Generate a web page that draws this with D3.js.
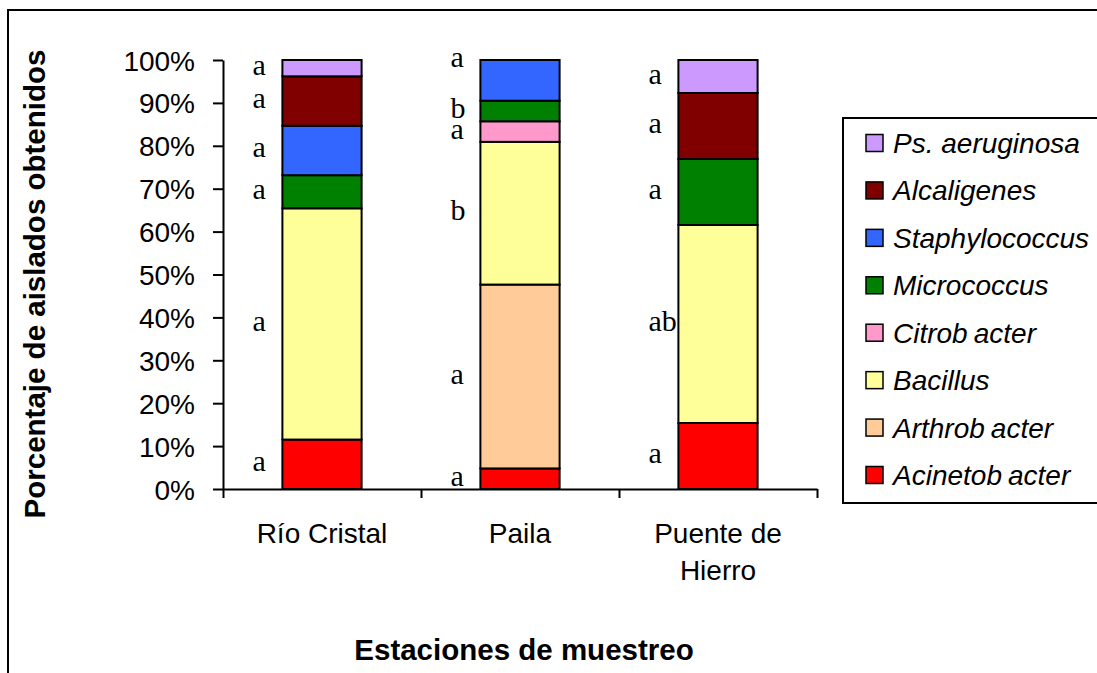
<!DOCTYPE html>
<html>
<head>
<meta charset="utf-8">
<script src="https://cdn.jsdelivr.net/npm/d3@7"></script>
<style>
  html, body { margin: 0; padding: 0; background: #fff; }
  svg { display: block; }
  text { fill: #000; }
</style>
</head>
<body>
<svg id="chart" width="1097" height="673"></svg>
<script>
// Sampling stations (x categories) and how their labels wrap
const stations = ["Río Cristal", "Paila", "Puente de Hierro"];
const stationLines = [["Río Cristal"], ["Paila"], ["Puente de", "Hierro"]];

// Genera, stacked from the bottom of each bar upwards
const genera = ["Acinetobacter", "Arthrobacter", "Bacillus", "Citrobacter",
                "Micrococcus", "Staphylococcus", "Alcaligenes", "Ps. aeruginosa"];
const colors = ["#FF0000", "#FFCC99", "#FFFF99", "#FF99CC",
                "#008000", "#3366FF", "#800000", "#CC99FF"];

// Percentage of isolates per station (Río Cristal, Paila, Puente de Hierro)
const acinetobacter  = [11.5,  4.8, 15.4];
const arthrobacter   = [ 0.0, 42.9,  0.0];
const bacillus       = [53.8, 33.3, 46.2];
const citrobacter    = [ 0.0,  4.8,  0.0];
const micrococcus    = [ 7.7,  4.8, 15.4];
const staphylococcus = [11.5,  9.5,  0.0];
const alcaligenes    = [11.5,  0.0, 15.4];
const psAeruginosa   = [ 3.8,  0.0,  7.7];

// Significance letters per genus and station (null = no letter)
const lettersAcinetobacter  = ["a", "a", "a"];
const lettersArthrobacter   = [null, "a", null];
const lettersBacillus       = ["a", "b", "ab"];
const lettersCitrobacter    = [null, "a", null];
const lettersMicrococcus    = ["a", "b", "a"];
const lettersStaphylococcus = ["a", null, null];
const lettersAlcaligenes    = ["a", null, "a"];
const lettersPsAeruginosa   = ["a", "a", "a"];

// Y axis tick values (fractions of the total)
const yTicks = [0, 0.1, 0.2, 0.3, 0.4, 0.5, 0.6, 0.7, 0.8, 0.9, 1.0];

const series = [acinetobacter, arthrobacter, bacillus, citrobacter,
                micrococcus, staphylococcus, alcaligenes, psAeruginosa];
const letters = [lettersAcinetobacter, lettersArthrobacter, lettersBacillus,
                 lettersCitrobacter, lettersMicrococcus, lettersStaphylococcus,
                 lettersAlcaligenes, lettersPsAeruginosa];

// Rows for d3.stack: one per station
const rows = stations.map((s, i) => {
  const r = { station: s };
  genera.forEach((g, k) => { r[g] = series[k][i]; });
  return r;
});

const stacked = d3.stack()
  .keys(genera)
  .offset(d3.stackOffsetExpand)(rows);

const svg = d3.select("#chart");
const SANS = "'Liberation Sans', Arial, sans-serif";
const SERIF = "'Liberation Serif', 'Times New Roman', serif";

// Outer chart frame (runs past the right and bottom edges)
svg.append("rect")
  .attr("x", 8).attr("y", 10)
  .attr("width", 1200).attr("height", 800)
  .attr("fill", "none").attr("stroke", "#000").attr("stroke-width", 2);

const plot = { left: 223, right: 817, top: 60, bottom: 489 };

const x = d3.scaleBand()
  .domain(stations)
  .range([plot.left, plot.right])
  .paddingInner(0.6)
  .paddingOuter(0.3);

const y = d3.scaleLinear()
  .domain([0, 1])
  .range([plot.bottom, plot.top]);

// Category boundaries for the x axis ticks
const xEdge = d3.scaleLinear()
  .domain([0, stations.length])
  .range([plot.left, plot.right]);

// Bars
const layers = svg.append("g").selectAll("g")
  .data(stacked)
  .join("g")
  .attr("fill", (d, k) => colors[k]);

layers.selectAll("rect")
  .data(d => d.filter(p => p[1] - p[0] > 0))
  .join("rect")
  .attr("x", p => x(p.data.station))
  .attr("width", x.bandwidth())
  .attr("y", p => y(p[1]))
  .attr("height", p => y(p[0]) - y(p[1]))
  .attr("stroke", "#000")
  .attr("stroke-width", 2);

// Significance letters beside each segment
const letterData = [];
stacked.forEach((layer, k) => {
  layer.forEach((p, i) => {
    const t = letters[k][i];
    if (t) letterData.push({ text: t, station: stations[i], mid: (p[0] + p[1]) / 2 });
  });
});

svg.append("g").selectAll("text")
  .data(letterData)
  .join("text")
  .attr("x", d => x(d.station) - 30)
  .attr("y", d => y(d.mid) + 7)
  .attr("font-family", SERIF)
  .attr("font-size", 30)
  .text(d => d.text);

// Y axis
const yAxis = svg.append("g")
  .attr("transform", `translate(${plot.left},0)`)
  .call(d3.axisLeft(y)
    .tickValues(yTicks)
    .tickFormat(d3.format(".0%"))
    .tickSize(10)
    .tickSizeOuter(0)
    .tickPadding(18));
yAxis.select(".domain").attr("stroke-width", 2);
yAxis.selectAll(".tick line").attr("stroke-width", 2);
yAxis.selectAll(".tick text")
  .attr("font-family", SANS)
  .attr("font-size", 28)
  .attr("dy", "0.36em");

// X axis with ticks between categories
const xAxis = svg.append("g")
  .attr("transform", `translate(0,${plot.bottom})`)
  .call(d3.axisBottom(xEdge)
    .tickValues(d3.range(stations.length + 1))
    .tickFormat("")
    .tickSize(9)
    .tickSizeOuter(0));
xAxis.select(".domain").attr("stroke-width", 2);
xAxis.selectAll(".tick line").attr("stroke-width", 2);

// Station labels
const cat = svg.append("g").selectAll("text")
  .data(stations)
  .join("text")
  .attr("x", d => x(d) + x.bandwidth() / 2)
  .attr("y", 543)
  .attr("text-anchor", "middle")
  .attr("font-family", SANS)
  .attr("font-size", 28);
cat.selectAll("tspan")
  .data((d, i) => stationLines[i].map(line => ({ line, cx: x(d) + x.bandwidth() / 2 })))
  .join("tspan")
  .attr("x", t => t.cx)
  .attr("dy", (t, j) => j === 0 ? 0 : 37)
  .text(t => t.line);

// Axis titles
svg.append("text")
  .attr("x", 524).attr("y", 660)
  .attr("text-anchor", "middle")
  .attr("font-family", SANS)
  .attr("font-weight", "bold")
  .attr("font-size", 29.5)
  .text("Estaciones de muestreo");

svg.append("text")
  .attr("transform", "translate(45,284) rotate(-90)")
  .attr("text-anchor", "middle")
  .attr("font-family", SANS)
  .attr("font-weight", "bold")
  .attr("font-size", 29.5)
  .text("Porcentaje de aislados obtenidos");

// Legend (top entry is the top of the stack)
const legend = svg.append("g");
legend.append("rect")
  .attr("x", 843).attr("y", 118)
  .attr("width", 400).attr("height", 385)
  .attr("fill", "#fff").attr("stroke", "#000").attr("stroke-width", 2);

const legendOrder = d3.range(genera.length).reverse();
const rowY = d3.scalePoint()
  .domain(legendOrder)
  .range([143, 475]);

const items = legend.selectAll("g.item")
  .data(legendOrder)
  .join("g")
  .attr("class", "item")
  .attr("transform", k => `translate(0,${rowY(k)})`);

items.append("rect")
  .attr("x", 866).attr("y", -8.5)
  .attr("width", 17).attr("height", 17)
  .attr("fill", k => colors[k])
  .attr("stroke", "#000").attr("stroke-width", 1.5);

const labels = items.append("text")
  .attr("x", 893).attr("y", 10)
  .attr("font-family", SANS)
  .attr("font-style", "italic")
  .attr("font-size", 28);

labels.each(function (k) {
  const name = genera[k];
  const t = d3.select(this);
  if (name.endsWith("bacter")) {
    t.append("tspan").text(name.slice(0, -5));
    t.append("tspan").attr("dx", 6).text(name.slice(-5));
  } else {
    t.text(name);
  }
});
</script>
</body>
</html>
